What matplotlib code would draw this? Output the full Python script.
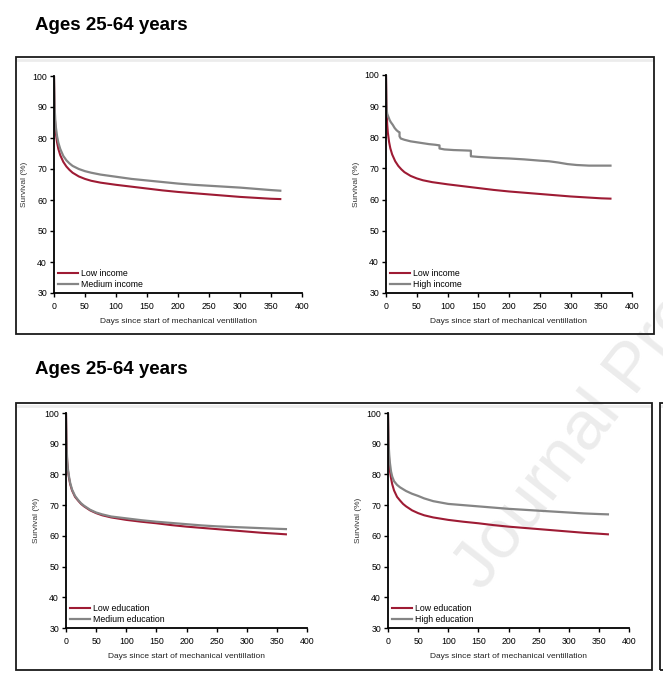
import matplotlib
matplotlib.use("Agg")
import matplotlib.pyplot as plt
from matplotlib.patches import Rectangle

plt.rcParams['font.family'] = ['Liberation Sans', 'DejaVu Sans']

# Kaplan-Meier survival (%)
days = [0, 1, 2, 3, 5, 7, 10, 15, 20, 25, 30, 40, 50, 60, 75, 100, 125,
        150, 175, 200, 225, 250, 275, 300, 325, 350, 365]

low_income = [100, 88, 84, 81.5, 78.5, 76.5, 74.5, 72.3, 70.8, 69.7, 68.8,
              67.6, 66.8, 66.2, 65.6, 64.9, 64.3, 63.7, 63.1, 62.6, 62.2,
              61.8, 61.4, 61.0, 60.7, 60.4, 60.3]
medium_income = [100, 90, 86, 83.5, 80.5, 78.5, 76.5, 74.2, 72.8, 71.8, 71.0,
                 70.0, 69.3, 68.8, 68.2, 67.5, 66.8, 66.3, 65.8, 65.3, 64.9,
                 64.6, 64.3, 64.0, 63.6, 63.2, 63.0]

# high income shows visible steps (repeated days mark the drops)
high_income_days = [0, 0.5, 1, 2, 4, 6, 8, 11, 14, 17, 20, 22, 22, 24, 30,
                    40, 50, 60, 70, 80, 87, 87, 95, 110, 125, 138, 138, 150,
                    175, 200, 225, 250, 265, 280, 295, 310, 330, 365]
high_income = [100, 92, 89, 87.5, 86.5, 85.5, 84.8, 84, 83, 82.3, 81.8, 81.6,
               80.3, 79.6, 79.2, 78.7, 78.4, 78.1, 77.8, 77.6, 77.4, 76.4,
               76.1, 75.9, 75.8, 75.7, 73.9, 73.7, 73.4, 73.2, 72.9, 72.5,
               72.3, 71.9, 71.4, 71.1, 70.9, 70.9]

low_education = [100, 88, 84, 81.5, 78.8, 76.8, 74.8, 72.7, 71.5, 70.4, 69.6,
                 68.3, 67.4, 66.7, 66.0, 65.2, 64.6, 64.1, 63.5, 63.0, 62.6,
                 62.2, 61.8, 61.4, 61.0, 60.7, 60.5]
medium_education = [100, 89, 84.5, 82, 79.3, 77.2, 75.1, 73.0, 71.7, 70.6,
                    69.8, 68.5, 67.6, 67.0, 66.3, 65.7, 65.1, 64.6, 64.2, 63.8,
                    63.4, 63.1, 62.9, 62.7, 62.5, 62.3, 62.2]
high_education = [100, 90, 86.5, 84, 81, 79.3, 77.8, 76.6, 75.8, 75.2, 74.6,
                  73.7, 73.0, 72.2, 71.3, 70.4, 70.0, 69.6, 69.2, 68.8, 68.5,
                  68.2, 67.9, 67.6, 67.3, 67.1, 67.0]

x_ticks = [0, 50, 100, 150, 200, 250, 300, 350, 400]
y_ticks = [30, 40, 50, 60, 70, 80, 90, 100]
panel_title = "Ages 25-64 years"
x_label = "Days since start of mechanical ventillation"
y_label = "Survival (%)"
watermark = "Journal Pre-proof"

RED = '#9e1b34'
GREY = '#858585'

W, H = 663, 680
fig = plt.figure(figsize=(W / 100, H / 100), dpi=100)


def px_axes(x0, x1, ytop, ybot):
  return fig.add_axes([x0 / W, 1 - ybot / H, (x1 - x0) / W, (ybot - ytop) / H])


def px_box(x0, x1, ytop, ybot):
  fig.patches.append(Rectangle((x0 / W, 1 - ybot / H), (x1 - x0) / W,
                               (ybot - ytop) / H, transform=fig.transFigure,
                               fill=False, ec='#1a1a1a', lw=1.3, zorder=1))
  fig.lines.append(plt.Line2D([(x0 + 2) / W, (x1 - 2) / W],
                              [1 - (ytop + 3) / H, 1 - (ytop + 3) / H],
                              transform=fig.transFigure, color='#ececec',
                              lw=2, zorder=1))


# faint watermark behind the plots, running off the right edge as in the source
fig.text(482 / W, 1 - 592 / H, watermark, rotation=52,
         rotation_mode='anchor', ha='left', va='baseline', fontsize=50,
         color='#ececec', zorder=-5)

px_box(16, 654, 57, 334)
px_box(16, 652, 403, 670)
px_box(660, 700, 403, 670)

fig.text(35 / W, 1 - 26 / H, panel_title, fontsize=13.5, fontweight='bold',
         va='center', ha='left')
fig.text(35 / W, 1 - 370 / H, panel_title, fontsize=13.5, fontweight='bold',
         va='center', ha='left')


def survival_plot(ax, series):
  ax.patch.set_alpha(0)
  for xs, ys, color, label, lw in series:
    ax.plot(xs, ys, color=color, lw=lw, label=label, solid_joinstyle='round')
  ax.set_xlim(0, 400)
  ax.set_ylim(30, 100)
  ax.set_xticks(x_ticks)
  ax.set_yticks(y_ticks)
  for s in ('top', 'right'):
    ax.spines[s].set_visible(False)
  for s in ('left', 'bottom'):
    ax.spines[s].set_linewidth(1.3)
  ax.tick_params(length=3, width=1, labelsize=6.3, pad=2)
  ax.tick_params(axis='x', pad=3.5)
  ax.set_xlabel(x_label, fontsize=6, labelpad=5, color='#222222')
  ax.set_ylabel(y_label, fontsize=6, labelpad=3, color='#333333')
  ax.legend(loc='lower left', frameon=False, fontsize=6.3, handlelength=2.2,
            handletextpad=0.4, labelspacing=0.15, borderaxespad=0.2,
            borderpad=0.3)


ax = px_axes(54, 302, 76, 293)
survival_plot(ax, [(days, low_income, RED, "Low income", 1.5),
                   (days, medium_income, GREY, "Medium income", 1.6)])

ax = px_axes(386, 632, 75, 293)
survival_plot(ax, [(days, low_income, RED, "Low income", 1.5),
                   (high_income_days, high_income, GREY, "High income", 1.6)])

ax = px_axes(66, 307, 413, 628)
survival_plot(ax, [(days, low_education, RED, "Low education", 1.5),
                   (days, medium_education, GREY, "Medium education", 1.6)])

ax = px_axes(388, 629, 413, 628)
survival_plot(ax, [(days, low_education, RED, "Low education", 1.5),
                   (days, high_education, GREY, "High education", 1.6)])

fig.savefig("out.png", dpi=100)
